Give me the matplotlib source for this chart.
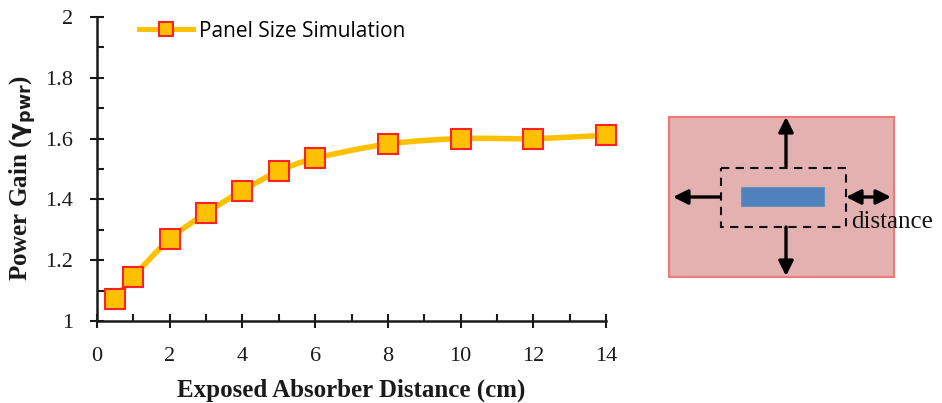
import numpy as np
import matplotlib.pyplot as plt
from matplotlib.path import Path
from matplotlib.patches import PathPatch, Rectangle, FancyArrowPatch
from matplotlib.lines import Line2D

# data
distance_cm = [0.5, 1, 2, 3, 4, 5, 6, 8, 10, 12, 14]
power_gain = [1.074, 1.146, 1.269, 1.355, 1.429, 1.493, 1.535, 1.582, 1.600, 1.600, 1.611]
x_ticks = [0, 2, 4, 6, 8, 10, 12, 14]
y_ticks = [1, 1.2, 1.4, 1.6, 1.8, 2]
series_name = 'Panel Size Simulation'

GOLD = '#FFC000'
RED = '#FF2020'
INK = '#1a1a1a'


def smooth_path(xs, ys, t=1 / 6):
    # Catmull-Rom style bezier path through the points (like a smoothed Excel line)
    pts = np.column_stack([xs, ys])
    verts = [pts[0]]
    codes = [Path.MOVETO]
    n = len(pts)
    for i in range(n - 1):
        p0 = pts[i - 1] if i > 0 else pts[i]
        p1 = pts[i]
        p2 = pts[i + 1]
        p3 = pts[i + 2] if i + 2 < n else pts[i + 1]
        c1 = p1 + (p2 - p0) * t
        c2 = p2 - (p3 - p1) * t
        verts += [c1, c2, p2]
        codes += [Path.CURVE4] * 3
    return Path(verts, codes)


fig = plt.figure(figsize=(9.42, 4.03), dpi=100)
ax = fig.add_axes([97 / 942, 82 / 403, 509 / 942, 304 / 403])

ax.add_patch(PathPatch(smooth_path(distance_cm, power_gain), fill=False,
                       edgecolor=GOLD, lw=4, capstyle='round', zorder=2))
ax.plot(distance_cm, power_gain, ls='none', marker='s', ms=14.5,
        mfc=GOLD, mec=RED, mew=1.5, zorder=3, clip_on=False)

ax.set_xlim(0, 14)
ax.set_ylim(1, 2)
ax.set_xticks(x_ticks)
ax.set_yticks(y_ticks)
ax.set_xticks(np.arange(1, 14, 2), minor=True)
ax.set_yticks(np.arange(1.1, 2.0, 0.2), minor=True)
ax.set_xticklabels([str(v) for v in x_ticks])
ax.set_yticklabels(['1' if v == 1 else ('2' if v == 2 else f'{v:.1f}') for v in y_ticks])
for s in ['top', 'right']:
    ax.spines[s].set_visible(False)
for s in ['left', 'bottom']:
    ax.spines[s].set_linewidth(1.8)
    ax.spines[s].set_color(INK)
ax.tick_params(which='major', direction='inout', length=10, width=1.5, color=INK,
               labelsize=16, labelcolor=INK)
ax.tick_params(axis='x', which='major', pad=14)
ax.tick_params(axis='y', which='major', pad=12)
ax.tick_params(which='minor', direction='in', length=5, width=1.5, color=INK)
for lab in ax.get_xticklabels() + ax.get_yticklabels():
    lab.set_fontfamily('Liberation Serif')

ax.set_xlabel('Exposed Absorber Distance (cm)', fontfamily='Liberation Serif',
              fontweight='bold', fontsize=18, labelpad=9, color=INK)
ax.set_ylabel(r'Power Gain ($\mathbf{\gamma}_{\mathbf{pwr}}$)', fontfamily='Liberation Serif',
              fontweight='bold', fontsize=18, color=INK)
ax.yaxis.set_label_coords(-0.115, 0.47)

handle = Line2D([], [], color=GOLD, lw=3.5, marker='s', ms=10, mfc=GOLD, mec=RED, mew=1.5)
ax.legend([handle], [series_name], loc='upper left', bbox_to_anchor=(0.045, 1.05),
          frameon=False, handlelength=2.6, handletextpad=0.3,
          prop={'family': 'Open Sans', 'size': 15})

# schematic on the right, drawn in figure pixel coordinates
PANEL = (669, 117, 225, 160)
DASHED = (721, 168, 125, 59)
ABSORBER = (741, 187, 83, 19)
ARROW_X, ARROW_Y = 786, 197

dg = fig.add_axes([0, 0, 1, 1])
dg.set_xlim(0, 942)
dg.set_ylim(403, 0)
dg.axis('off')
dg.add_patch(Rectangle(PANEL[:2], PANEL[2], PANEL[3], facecolor='#E4B1B1',
                       edgecolor='#F07878', lw=1.5))
dg.add_patch(Rectangle(DASHED[:2], DASHED[2], DASHED[3], facecolor='none',
                       edgecolor='#111111', lw=1.5, ls=(0, (4, 3))))
dg.add_patch(Rectangle(ABSORBER[:2], ABSORBER[2], ABSORBER[3], facecolor='#4F81BD',
                       edgecolor='#6A90C0', lw=0.8))

arrows = [((ARROW_X, 166), (ARROW_X, 117), '-|>'),
          ((ARROW_X, 227), (ARROW_X, 276), '-|>'),
          ((720, ARROW_Y), (673, ARROW_Y), '-|>'),
          ((846, ARROW_Y), (891, ARROW_Y), '<|-|>')]
for start, end, style in arrows:
    dg.add_patch(FancyArrowPatch(start, end, arrowstyle=style, mutation_scale=22,
                                 color='black', lw=2.4, shrinkA=0, shrinkB=0))
dg.text(851, 222, 'distance', fontfamily='Liberation Serif', fontsize=18,
        ha='left', va='center', color='#111111')

fig.savefig('out.png', dpi=100)
